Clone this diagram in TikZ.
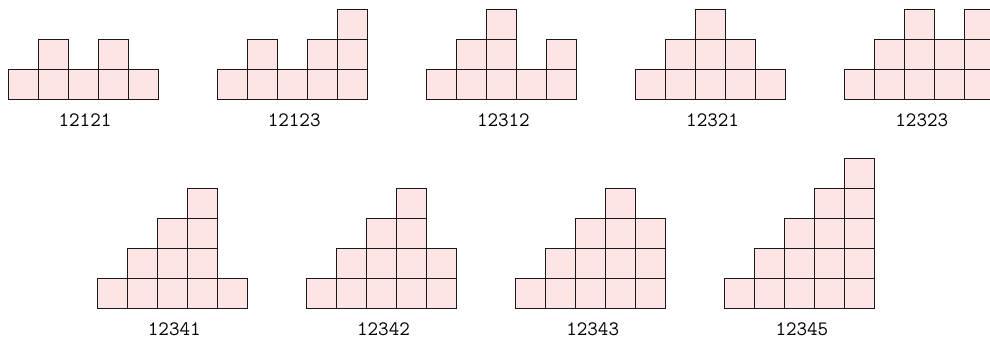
\documentclass[tikz,border=0pt]{standalone}
\usepackage{tikz}
\definecolor{cellpink}{HTML}{FFE4E6}
\tikzset{
  cell/.style={draw=black!90, fill=cellpink, line width=0.9pt},
  lab/.style={font=\ttfamily\fontsize{20.5}{24}\selectfont, inner sep=0pt}
}
\newcommand\colpic[5]{%
  \begin{scope}[shift={(#1,#2)}]
    \foreach \h [count=\i] in {#3} {
      \foreach \j in {1,...,\h} {
        \draw[cell] ({(\i-1)*30},{(\j-1)*30}) rectangle ++(30,30);
      }
    }
    \node[lab] (#5) at (77,-21) {#4};
  \end{scope}}
\begin{document}
\begin{tikzpicture}[x=1pt,y=1pt]
\useasboundingbox (0,0) rectangle (990,339);
\clip (0,0) rectangle (990,339);
\fill[white] (0,0) rectangle (990,339);
\colpic{8}{240}{1,2,1,2,1}{12121}{a}
\colpic{217.2}{240}{1,2,1,2,3}{12123}{b}
\colpic{426.4}{240}{1,2,3,1,2}{12312}{c}
\colpic{635.6}{240}{1,2,3,2,1}{12321}{d}
\colpic{844.8}{240}{1,2,3,2,3}{12323}{e}
\colpic{97.3}{31}{1,2,3,4,1}{12341}{f}
\colpic{306.5}{31}{1,2,3,4,2}{12342}{g}
\colpic{515.7}{31}{1,2,3,4,3}{12343}{h}
\colpic{724.9}{31}{1,2,3,4,5}{12345}{i}
\end{tikzpicture}
\end{document}
